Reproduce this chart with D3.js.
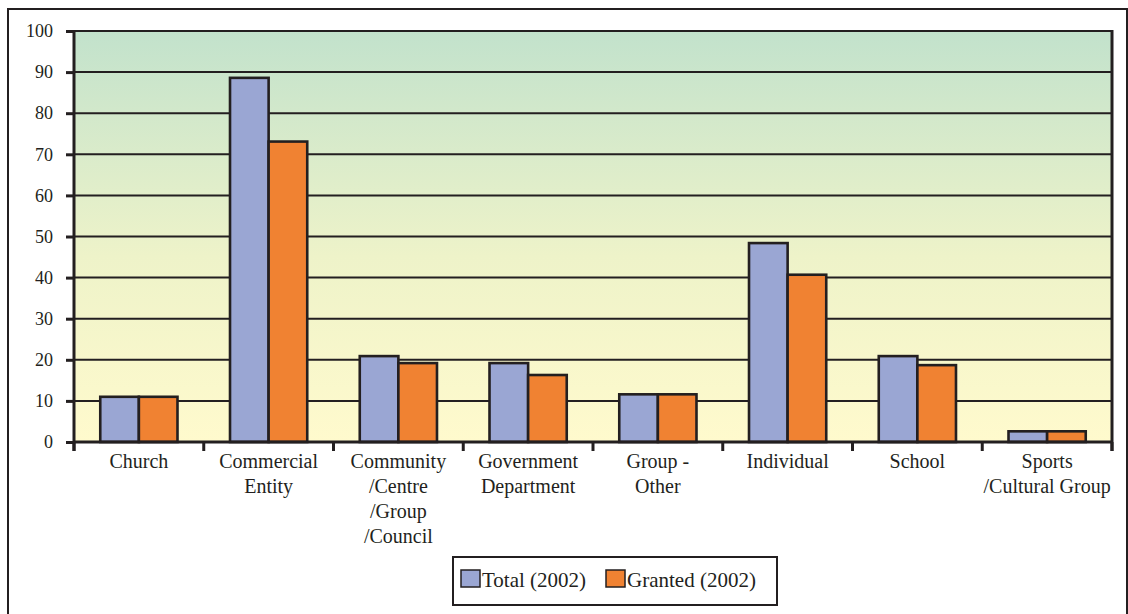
<!DOCTYPE html>
<html lang="en">
<head>
<meta charset="utf-8">
<title>Applications by type (2002)</title>
<script src="https://cdn.jsdelivr.net/npm/d3@7"></script>
<style>
  body { margin: 0; background: #fff; }
  svg text { font-family: "Times New Roman", "Liberation Serif", "DejaVu Serif", "Noto Serif", Times, serif !important; fill: #231f20; }
</style>
</head>
<body>
<svg width="1128" height="614"></svg>
<script>
// data
var categories = [
  ["Church"],
  ["Commercial", "Entity"],
  ["Community", "/Centre", "/Group", "/Council"],
  ["Government", "Department"],
  ["Group -", "Other"],
  ["Individual"],
  ["School"],
  ["Sports", "/Cultural Group"]
];
var seriesNames = ["Total (2002)", "Granted (2002)"];
var totalValues   = [11, 88.6, 20.9, 19.2, 11.6, 48.4, 20.9, 2.6];
var grantedValues = [11, 73.1, 19.2, 16.3, 11.6, 40.7, 18.7, 2.6];
var yTicks = [0, 10, 20, 30, 40, 50, 60, 70, 80, 90, 100];
var colors = ["#9aa6d3", "#f08232"];

var ink = "#231f20";
var svg = d3.select("svg");
var plot = {left: 74, right: 1112, top: 31, bottom: 442};

var defs = svg.append("defs");
var grad = defs.append("linearGradient")
    .attr("id", "bg").attr("x1", 0).attr("y1", 0).attr("x2", 0).attr("y2", 1);
grad.append("stop").attr("offset", "0%").attr("stop-color", "#c2e2cc");
grad.append("stop").attr("offset", "55%").attr("stop-color", "#eef3c9");
grad.append("stop").attr("offset", "100%").attr("stop-color", "#fffacd");

// outer frame
svg.append("rect")
    .attr("x", 8).attr("y", 9).attr("width", 1119).attr("height", 620)
    .attr("fill", "none").attr("stroke", ink).attr("stroke-width", 2);

var keys = categories.map(function(c) { return c.join(" "); });

var x0 = d3.scaleBand().domain(keys).range([plot.left, plot.right]).padding(0);
var x1 = d3.scaleBand().domain(seriesNames).range([0, x0.bandwidth()])
    .paddingInner(0).paddingOuter(0.68);
var y = d3.scaleLinear().domain([0, 100]).range([plot.bottom, plot.top]);

// plot background
svg.append("rect")
    .attr("x", plot.left).attr("y", plot.top)
    .attr("width", plot.right - plot.left).attr("height", plot.bottom - plot.top)
    .attr("fill", "url(#bg)");

// gridlines
svg.append("g").selectAll("line")
    .data(yTicks.filter(function(d) { return d > 0; }))
    .enter().append("line")
    .attr("x1", plot.left).attr("x2", plot.right)
    .attr("y1", function(d) { return y(d); }).attr("y2", function(d) { return y(d); })
    .attr("stroke", ink).attr("stroke-width", 2);

// right border of plot area
svg.append("line")
    .attr("x1", plot.right).attr("x2", plot.right)
    .attr("y1", plot.top - 1).attr("y2", plot.bottom + 9)
    .attr("stroke", ink).attr("stroke-width", 3);

// bars
var rows = keys.map(function(k, i) {
  return {key: k, values: [totalValues[i], grantedValues[i]]};
});
var groups = svg.append("g").selectAll("g")
    .data(rows).enter().append("g")
    .attr("transform", function(d) { return "translate(" + x0(d.key) + ",0)"; });
groups.selectAll("rect")
    .data(function(d) { return d.values.map(function(v, j) { return {name: seriesNames[j], value: v, j: j}; }); })
    .enter().append("rect")
    .attr("x", function(d) { return x1(d.name); })
    .attr("width", x1.bandwidth())
    .attr("y", function(d) { return y(d.value); })
    .attr("height", function(d) { return y(0) - y(d.value); })
    .attr("fill", function(d) { return colors[d.j]; })
    .attr("stroke", ink).attr("stroke-width", 2.6);

// y axis
var yAxis = svg.append("g")
    .attr("transform", "translate(" + plot.left + ",0)")
    .call(d3.axisLeft(y).tickValues(yTicks).tickSize(8).tickPadding(13).tickFormat(d3.format("d")));
yAxis.attr("font-family", null);
yAxis.select(".domain").attr("stroke", ink).attr("stroke-width", 3)
    .attr("d", "M0," + (plot.bottom + 9) + "V" + (plot.top - 1));
yAxis.selectAll(".tick line").attr("stroke", ink).attr("stroke-width", 3);
yAxis.selectAll(".tick text")
    .style("font-size", "18px").attr("fill", ink);

// x axis
var xAxis = svg.append("g")
    .attr("transform", "translate(0," + plot.bottom + ")");
xAxis.append("line")
    .attr("x1", plot.left - 1).attr("x2", plot.right + 1)
    .attr("stroke", ink).attr("stroke-width", 3);
xAxis.selectAll(".xtick")
    .data(keys.concat(["end"]))
    .enter().append("line")
    .attr("class", "xtick")
    .attr("x1", function(d, i) { return i < keys.length ? x0(d) : plot.right; })
    .attr("x2", function(d, i) { return i < keys.length ? x0(d) : plot.right; })
    .attr("y1", 0).attr("y2", 9)
    .attr("stroke", ink).attr("stroke-width", 3);

var labels = xAxis.selectAll(".xlabel")
    .data(rows.map(function(r, i) { return {key: r.key, lines: categories[i]}; }))
    .enter().append("text")
    .attr("class", "xlabel")
    .attr("text-anchor", "middle")
    .style("font-size", "20px");
labels.selectAll("tspan")
    .data(function(d) { return d.lines.map(function(l) { return {key: d.key, text: l}; }); })
    .enter().append("tspan")
    .attr("x", function(d) { return x0(d.key) + x0.bandwidth() / 2; })
    .attr("y", function(d, i) { return 26 + i * 25; })
    .text(function(d) { return d.text; });

// legend
var legend = svg.append("g").attr("transform", "translate(453,557)");
legend.append("rect")
    .attr("width", 324).attr("height", 48)
    .attr("fill", "#fff").attr("stroke", ink).attr("stroke-width", 2);
var items = legend.selectAll(".item")
    .data(seriesNames).enter().append("g")
    .attr("transform", function(d, i) { return "translate(" + (i === 0 ? 8 : 153) + ",0)"; });
items.append("rect")
    .attr("y", 13).attr("width", 19).attr("height", 17)
    .attr("fill", function(d, i) { return colors[i]; })
    .attr("stroke", ink).attr("stroke-width", 1.5);
items.append("text")
    .attr("x", 21).attr("y", 30)
    .style("font-size", "21px")
    .text(function(d) { return d; });
</script>
</body>
</html>
